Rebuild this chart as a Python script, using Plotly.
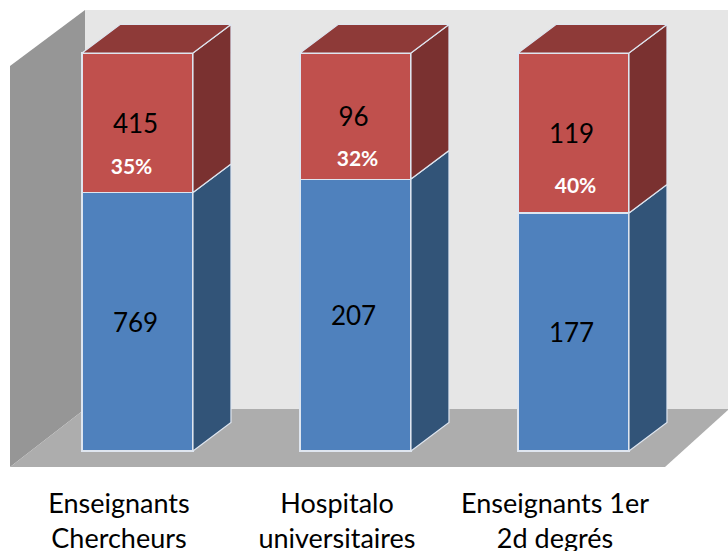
import plotly.graph_objects as go

categories = ["Enseignants<br>Chercheurs", "Hospitalo<br>universitaires", "Enseignants 1er<br>2d degrés"]
blue_values = [769, 207, 177]
red_values = [415, 96, 119]
percent_labels = ["35%", "32%", "40%"]

FONT = "Lato, Carlito, sans-serif"
W, H = 728, 551
PLOT_BOTTOM = 476            # pixel row where the plot area ends
X0_PX, X_STEP = 137.5, 218   # px of category 0, px per category
Y0_PX, Y_UNIT = 451, 3.98    # px of 0 %, px per percent
BAR = 0.509
DX, DY = 38 / X_STEP, 28.5 / Y_UNIT  # depth of the 3-D extrusion in axis units

xr = [-X0_PX / X_STEP, (W - X0_PX) / X_STEP]
yr = [(Y0_PX - PLOT_BOTTOM) / Y_UNIT, Y0_PX / Y_UNIT]

def px(x): return (x - X0_PX) / X_STEP
def py(y): return (Y0_PX - y) / Y_UNIT

totals = [b + r for b, r in zip(blue_values, red_values)]
blue_pct = [100 * b / t for b, t in zip(blue_values, totals)]
red_pct = [100 * r / t for r, t in zip(red_values, totals)]
xs = list(range(len(categories)))

fig = go.Figure()
line = dict(color="#dfe6f0", width=1.2)
fig.add_bar(x=xs, y=blue_pct, width=BAR, marker=dict(color="#4f81bd", line=line),
            showlegend=False, hoverinfo="skip")
fig.add_bar(x=xs, y=red_pct, width=BAR, marker=dict(color="#c0504d", line=line),
            showlegend=False, hoverinfo="skip")

def poly(px_list, py_list, color):
    fig.add_scatter(x=px_list + px_list[:1], y=py_list + py_list[:1], mode="lines", fill="toself",
                    fillcolor=color, line=dict(color="#dfe6f0", width=1.2),
                    showlegend=False, hoverinfo="skip")

for i in xs:
    r = i + BAR / 2
    l = i - BAR / 2
    b = blue_pct[i]
    # blue side
    poly([r, r + DX, r + DX, r], [0, DY, b + DY, b], "#325478")
    # red side
    poly([r, r + DX, r + DX, r], [b, b + DY, 100 + DY, 100], "#7a3130")
    # top
    poly([l, r, r + DX, l + DX], [100, 100, 100 + DY, 100 + DY], "#8e3a38")

# value labels at the centre of each block, nudged to sit as in the source
value_x = [i - 2 / X_STEP for i in xs]
value_dy = 3.5 / Y_UNIT
value_font = dict(family=FONT, size=26, color="#000000")
fig.add_scatter(x=value_x, y=[v / 2 - value_dy for v in blue_pct], mode="text", text=blue_values,
                textfont=value_font, showlegend=False, hoverinfo="skip")
fig.add_scatter(x=value_x, y=[blue_pct[i] + red_pct[i] / 2 - value_dy for i in xs], mode="text",
                text=red_values, textfont=value_font, showlegend=False, hoverinfo="skip")

# percentage labels, offset below the centre of each red block
pct_dx_px = [-6, 2, 2]
pct_dy_pct = [11.5, 11.3, 13.75]
fig.add_scatter(x=[i + d / X_STEP for i, d in zip(xs, pct_dx_px)],
                y=[blue_pct[i] + red_pct[i] / 2 - pct_dy_pct[i] for i in xs],
                mode="text", text=percent_labels,
                textfont=dict(family=FONT, size=21, color="#ffffff", weight="bold"),
                showlegend=False, hoverinfo="skip")

def path(pts):
    return "M " + " L ".join(f"{px(x)},{py(y)}" for x, y in pts) + " Z"

shapes = [
    dict(type="path", path=path([(85, 10), (W, 10), (W, 409), (85, 409)]),
         fillcolor="#e6e6e6", line=dict(width=0), layer="below"),
    dict(type="path", path=path([(10, 66), (85, 10), (85, 409), (10, 467)]),
         fillcolor="#969696", line=dict(width=0), layer="below"),
    dict(type="path", path=path([(10, 467), (85, 409), (W + 1, 409), (665, 467)]),
         fillcolor="#adadad", line=dict(width=0), layer="below"),
]

tick_shift = 18.5 / X_STEP  # the source's category labels sit left of their bars
fig.update_layout(
    barmode="stack", width=W, height=H, paper_bgcolor="white", plot_bgcolor="white",
    margin=dict(l=0, r=0, t=0, b=H - PLOT_BOTTOM, autoexpand=False), shapes=shapes,
    xaxis=dict(range=xr, tickmode="array", tickvals=[i - tick_shift for i in xs], ticktext=categories,
               showgrid=False, zeroline=False, showline=False, ticks="", automargin=False,
               ticklabelstandoff=9, tickfont=dict(family=FONT, size=27, color="#000000")),
    yaxis=dict(range=yr, showgrid=False, zeroline=False, showline=False, ticks="",
               showticklabels=False, automargin=False),
)
fig.write_html("out.html", config=dict(displayModeBar=False),
               post_script="document.body.style.margin='0';document.documentElement.style.overflow='hidden';")
